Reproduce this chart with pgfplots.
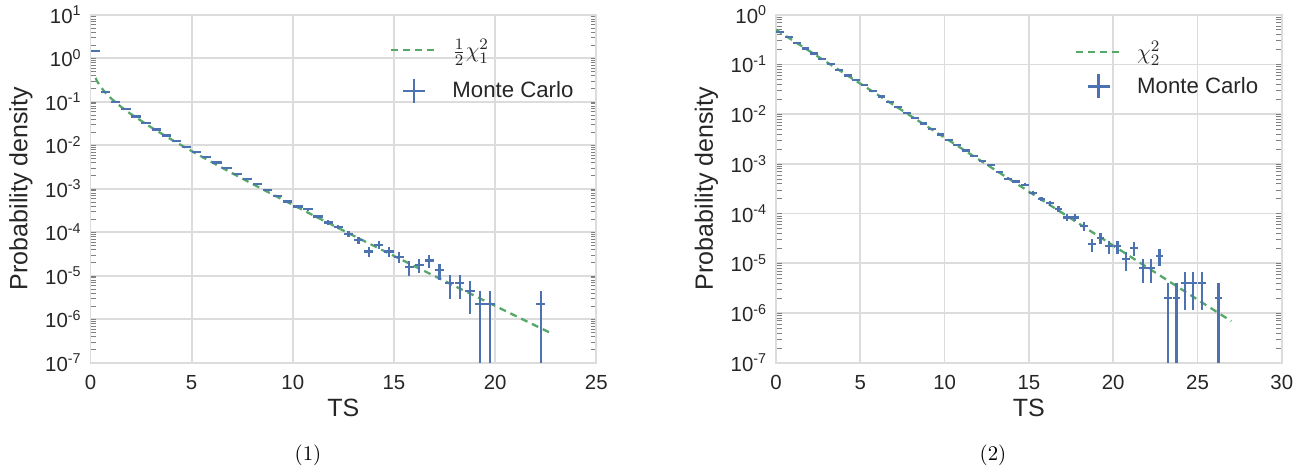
\documentclass[border=0pt]{standalone}
\usepackage{fontspec}
\setsansfont{Liberation Sans}
\usepackage{pgfplots}
\usepackage{pgfplotstable}
\pgfplotsset{compat=1.18}
\definecolor{mcblue}{HTML}{4C72B0}
\definecolor{chigreen}{HTML}{55A868}
\definecolor{gridgray}{HTML}{DCDCDC}
\definecolor{txt}{HTML}{262626}

\pgfplotstableread{
x y ex ey
0.25 1.49 0.23 1.8e-3
0.75 0.168 0.23 6.1e-4
1.25 0.100 0.23 4.7e-4
1.75 0.0687 0.23 3.9e-4
2.25 0.0458 0.23 3.2e-4
2.75 0.0323 0.23 2.7e-4
3.25 0.0230 0.23 2.3e-4
3.75 0.0168 0.23 1.9e-4
4.25 0.0125 0.23 1.7e-4
4.75 0.0091 0.23 1.4e-4
5.25 0.0069 0.23 1.2e-4
5.75 0.0054 0.23 1.1e-4
6.25 0.0040 0.23 9.5e-5
6.75 0.00295 0.23 8.1e-5
7.25 0.00222 0.23 7.1e-5
7.75 0.00167 0.23 6.1e-5
8.25 0.00130 0.23 5.4e-5
8.75 9.3e-4 0.23 4.6e-5
9.25 6.9e-4 0.23 3.9e-5
9.75 5.1e-4 0.23 3.4e-5
10.25 3.9e-4 0.23 3.0e-5
10.75 3.4e-4 0.23 2.8e-5
11.25 2.3e-4 0.23 2.3e-5
11.75 1.67e-4 0.23 1.9e-5
12.25 1.33e-4 0.23 1.7e-5
12.75 9.0e-5 0.23 1.4e-5
13.25 6.5e-5 0.23 1.2e-5
13.75 3.6e-5 0.23 9.0e-6
14.25 5.1e-5 0.23 1.07e-5
14.75 3.6e-5 0.23 9.0e-6
15.25 2.7e-5 0.23 7.8e-6
15.75 1.57e-5 0.23 5.9e-6
16.25 1.79e-5 0.23 6.3e-6
16.75 2.24e-5 0.23 7.1e-6
17.25 1.34e-5 0.23 5.5e-6
17.75 6.72e-6 0.23 3.88e-6
18.25 6.72e-6 0.23 3.88e-6
18.75 4.48e-6 0.23 3.17e-6
19.25 2.24e-6 0.23 2.237e-6
19.75 2.24e-6 0.23 2.237e-6
22.25 2.24e-6 0.23 2.237e-6
}\mcA

\pgfplotstableread{
x y
0.25 0.3521
0.35 0.2830
0.5 0.2197
0.75 0.1583
1 0.1210
1.5 0.07693
2 0.05189
3 0.02570
4 0.013498
5 0.0073225
6 0.0040545
7 0.0022767
8 0.0012917
9 7.386e-4
10 4.250e-4
11 2.458e-4
12 1.427e-4
13 8.318e-5
14 4.861e-5
15 2.849e-5
16 1.673e-5
17 9.844e-6
18 5.802e-6
19 3.425e-6
20 2.025e-6
21 1.199e-6
22 7.103e-7
22.75 4.80e-7
}\chiA

\pgfplotstableread{
x y ex ey
0.25 0.443 0.23 9.4e-4
0.75 0.352 0.23 8.4e-4
1.25 0.271 0.23 7.4e-4
1.75 0.209 0.23 6.5e-4
2.25 0.166 0.23 5.8e-4
2.75 0.130 0.23 5.1e-4
3.25 0.103 0.23 4.5e-4
3.75 0.077 0.23 3.9e-4
4.25 0.060 0.23 3.5e-4
4.75 0.0479 0.23 3.1e-4
5.25 0.038 0.23 2.8e-4
5.75 0.0293 0.23 2.4e-4
6.25 0.0226 0.23 2.1e-4
6.75 0.0177 0.23 1.9e-4
7.25 0.0138 0.23 1.7e-4
7.75 0.0106 0.23 1.5e-4
8.25 0.0083 0.23 1.3e-4
8.75 0.0065 0.23 1.1e-4
9.25 0.0051 0.23 1.0e-4
9.75 0.0039 0.23 8.8e-5
10.25 0.0030 0.23 7.7e-5
10.75 0.00236 0.23 6.9e-5
11.25 0.00185 0.23 6.1e-5
11.75 0.00145 0.23 5.4e-5
12.25 0.00113 0.23 4.8e-5
12.75 0.00095 0.23 4.4e-5
13.25 0.00068 0.23 3.7e-5
13.75 0.00050 0.23 3.2e-5
14.25 0.00044 0.23 3.0e-5
14.75 0.00038 0.23 2.8e-5
15.25 2.56e-4 0.23 2.3e-5
15.75 1.96e-4 0.23 2.0e-5
16.25 1.63e-4 0.23 1.8e-5
16.75 1.23e-4 0.23 1.6e-5
17.25 8.3e-5 0.23 1.3e-5
17.75 8.3e-5 0.23 1.3e-5
18.25 5.6e-5 0.23 1.06e-5
18.75 2.4e-5 0.23 6.9e-6
19.25 3.2e-5 0.23 8.0e-6
19.75 2.2e-5 0.23 6.6e-6
20.25 2.2e-5 0.23 6.6e-6
20.75 1.2e-5 0.23 4.9e-6
21.25 2.0e-5 0.23 6.3e-6
21.75 8.0e-6 0.23 4.0e-6
22.25 8.0e-6 0.23 4.0e-6
22.75 1.4e-5 0.23 5.3e-6
23.25 2.0e-6 0.23 1.999e-6
23.75 2.0e-6 0.23 1.999e-6
24.25 4.0e-6 0.23 2.83e-6
24.75 4.0e-6 0.23 2.83e-6
25.25 4.0e-6 0.23 2.83e-6
26.25 2.0e-6 0.23 1.999e-6
}\mcB

\pgfplotstableread{
x y
0 0.5
3 0.11157
6 0.024894
9 0.0055545
12 0.0012394
15 2.7654e-4
18 6.1705e-5
21 1.3768e-5
24 3.0721e-6
27 6.855e-7
}\chiB

\begin{document}
\begin{tikzpicture}
\useasboundingbox (0,0) rectangle (657.5pt,235.5pt);
\begin{axis}[at={(45.25pt,54.15pt)}, anchor=south west,
    scale only axis, width=252.9pt, height=174pt,
    ymode=log, ymin=1e-7, xmin=0, xmax=25, ymax=1e1,
    axis line style={gridgray, line width=0.85pt},
    grid=major, major grid style={gridgray, line width=0.85pt},
    major tick length=0pt,
    tick label style={font=\sffamily\fontsize{10.2}{12}\selectfont, text=txt},
    xticklabel style={inner sep=0pt, anchor=north, yshift=-6pt},
    yticklabel style={inner sep=0pt, anchor=east, xshift=-4.25pt},
    label style={font=\sffamily\fontsize{12.5}{15}\selectfont, text=txt, inner sep=0pt},
    x label style={at={(axis description cs:0.5,-0.1302)}, anchor=center},
    y label style={at={(axis description cs:-0.1374,0.5)}, anchor=center},
    xlabel={TS}, ylabel={Probability density},
    legend cell align=left,
    legend style={draw=none, fill=none, inner sep=0pt, outer sep=0pt,
      font=\sffamily\fontsize{11.1}{13}\selectfont, text=txt, row sep=6.5pt,
      column sep=5.5pt,
      at={(axis description cs:0.5925,0.9425)}, anchor=north west},
  xtick={0,5,10,15,20,25}, xticklabels={0,5,10,15,20,25},
  ytick={1e-7,1e-6,1e-5,1e-4,1e-3,1e-2,1e-1,1e0,1e1},
  yticklabels={10\textsuperscript{-7},10\textsuperscript{-6},10\textsuperscript{-5},10\textsuperscript{-4},10\textsuperscript{-3},10\textsuperscript{-2},10\textsuperscript{-1},10\textsuperscript{0},10\textsuperscript{1}}]
\addplot[chigreen, line width=1.15pt, dash pattern=on 3.5pt off 2.5pt, no markers,
    legend image code/.code={\draw[chigreen, line width=1.15pt, dash pattern=on 3.5pt off 2.5pt] (0pt,0pt) -- (22.5pt,0pt);}]
  table[x=x,y=y] \chiA;
\addlegendentry{$\frac{1}{2}\chi_1^2$}
\addplot[draw=none, mark=none,
    legend image code/.code={\draw[mcblue, line width=1.1pt] (11.25pt,-6pt) -- (11.25pt,6pt) (5.75pt,0pt) -- (16.75pt,0pt);},
    error bars/.cd, x dir=both, x explicit, y dir=both, y explicit,
    error mark=none, error bar style={draw=mcblue, line width=1.1pt, solid}]
  table[x=x, y=y, x error=ex, y error=ey] \mcA;
\addlegendentry{Monte Carlo}
\end{axis}
\begin{axis}[at={(388pt,54.15pt)}, anchor=south west,
    scale only axis, width=252.9pt, height=174pt,
    ymode=log, ymin=1e-7, xmin=0, xmax=30, ymax=1e0,
    axis line style={gridgray, line width=0.85pt},
    grid=major, major grid style={gridgray, line width=0.85pt},
    major tick length=0pt,
    tick label style={font=\sffamily\fontsize{10.2}{12}\selectfont, text=txt},
    xticklabel style={inner sep=0pt, anchor=north, yshift=-6pt},
    yticklabel style={inner sep=0pt, anchor=east, xshift=-4.25pt},
    label style={font=\sffamily\fontsize{12.5}{15}\selectfont, text=txt, inner sep=0pt},
    x label style={at={(axis description cs:0.5,-0.1302)}, anchor=center},
    y label style={at={(axis description cs:-0.1374,0.5)}, anchor=center},
    xlabel={TS}, ylabel={Probability density},
    legend cell align=left,
    legend style={draw=none, fill=none, inner sep=0pt, outer sep=0pt,
      font=\sffamily\fontsize{11.1}{13}\selectfont, text=txt, row sep=3pt,
      column sep=5.5pt,
      at={(axis description cs:0.591,0.934)}, anchor=north west},
  xtick={0,5,10,15,20,25,30}, xticklabels={0,5,10,15,20,25,30},
  ytick={1e-7,1e-6,1e-5,1e-4,1e-3,1e-2,1e-1,1e0},
  yticklabels={10\textsuperscript{-7},10\textsuperscript{-6},10\textsuperscript{-5},10\textsuperscript{-4},10\textsuperscript{-3},10\textsuperscript{-2},10\textsuperscript{-1},10\textsuperscript{0}}]
\addplot[chigreen, line width=1.15pt, dash pattern=on 3.5pt off 2.5pt, no markers,
    legend image code/.code={\draw[chigreen, line width=1.15pt, dash pattern=on 3.5pt off 2.5pt] (0pt,0pt) -- (22.5pt,0pt);}]
  table[x=x,y=y] \chiB;
\addlegendentry{$\chi_2^2$}
\addplot[draw=none, mark=none,
    legend image code/.code={\draw[mcblue, line width=1.1pt] (11.25pt,-6pt) -- (11.25pt,6pt) (5.75pt,0pt) -- (16.75pt,0pt);},
    error bars/.cd, x dir=both, x explicit, y dir=both, y explicit,
    error mark=none, error bar style={draw=mcblue, line width=1.1pt, solid}]
  table[x=x, y=y, x error=ex, y error=ey] \mcB;
\addlegendentry{Monte Carlo}
\end{axis}
\node[font=\rmfamily\fontsize{10.4}{12}\selectfont, inner sep=0pt] at (154pt,8pt) {(1)};
\node[font=\rmfamily\fontsize{10.4}{12}\selectfont, inner sep=0pt] at (496.5pt,8pt) {(2)};
\end{tikzpicture}
\end{document}
